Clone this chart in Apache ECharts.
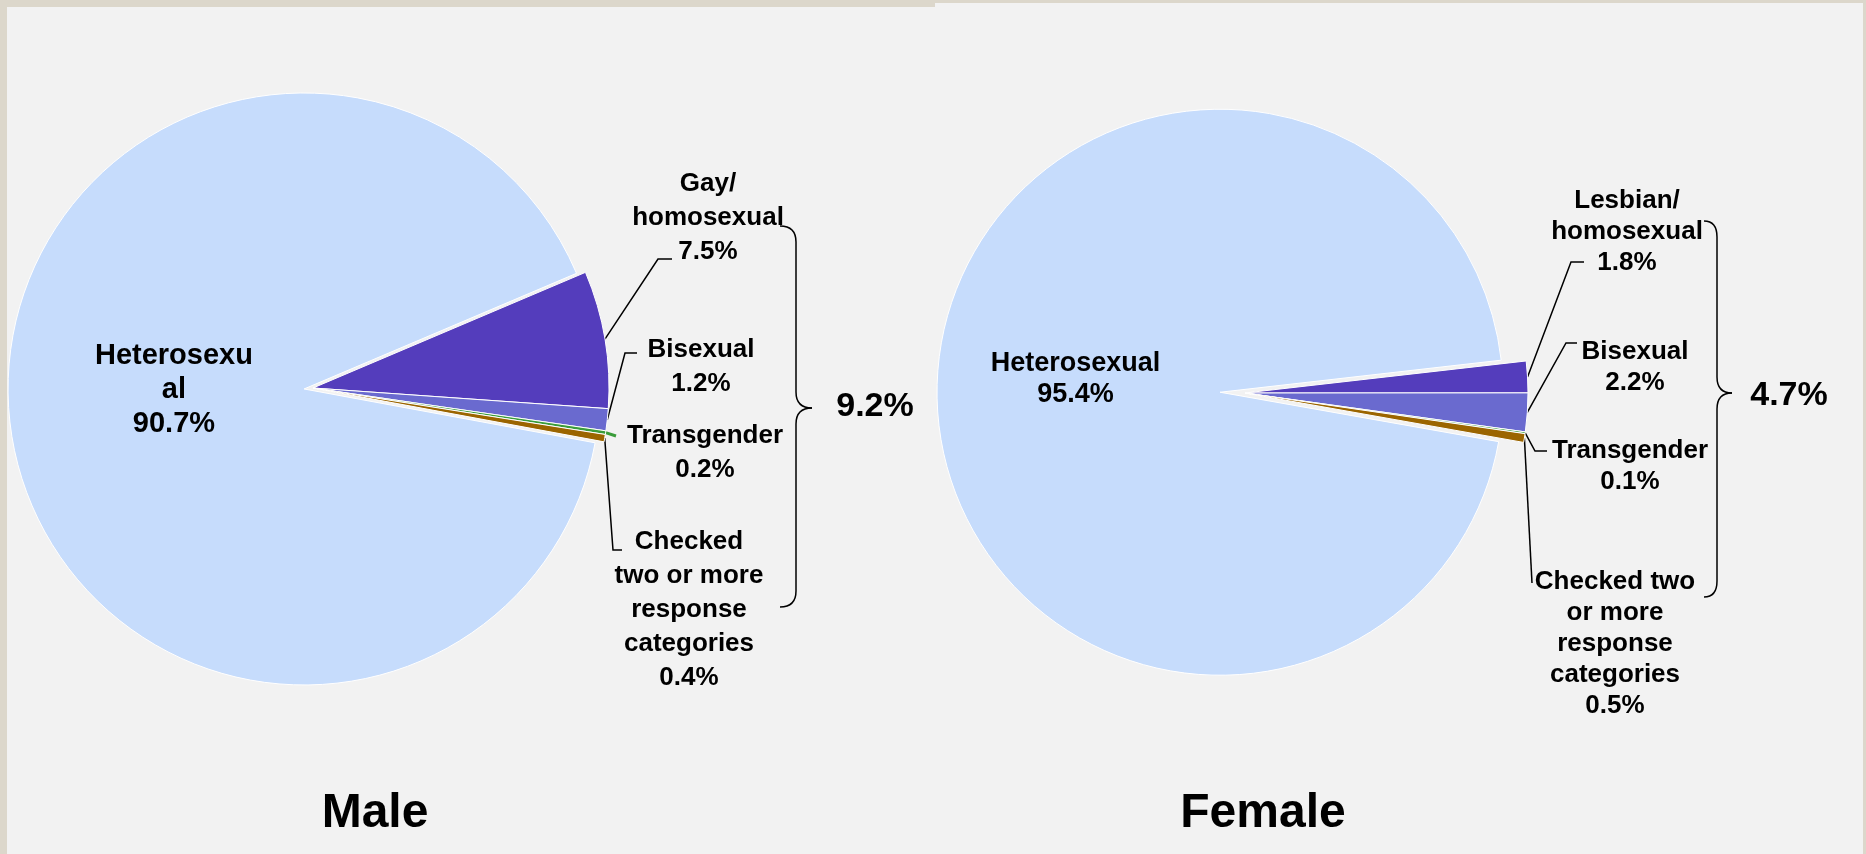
<!DOCTYPE html>
<html>
<head>
<meta charset="utf-8">
<script src="https://cdn.jsdelivr.net/npm/echarts@6/dist/echarts.min.js"></script>
<style>
html, body { margin: 0; padding: 0; background: #f2f2f2; }
#chart { width: 1866px; height: 854px; }
</style>
</head>
<body>
<div id="chart"></div>
<script>
// data
const maleCategories = ['Gay/\nhomosexual', 'Bisexual', 'Transgender', 'Checked\ntwo or more\nresponse\ncategories', 'Heterosexu\nal'];
const maleValues = [7.5, 1.2, 0.2, 0.4, 90.7];
const femaleCategories = ['Lesbian/\nhomosexual', 'Bisexual', 'Transgender', 'Checked two\nor more\nresponse\ncategories', 'Heterosexual'];
const femaleValues = [1.8, 2.2, 0.1, 0.5, 95.4];
const groupTitles = ['Male', 'Female'];
const minorityTotals = ['9.2%', '4.7%'];

const sliceColors = ['#543dbc', '#6a6acf', '#3a9c3a', '#9b6500', '#c6dcfc'];
const font = '"Liberation Sans", Arial, sans-serif';

// where labels sit and where their leader lines bend
const maleLabelAt = [[708, 218], [701, 367], [705, 453], [689, 610]];
const maleLeader = [[[658, 259], [672, 259]], [[625, 353], [637, 353]], [[616, 436], [616, 436]], [[613, 550], [622, 550]]];
const femaleLabelAt = [[1627, 232], [1635, 367], [1630, 466], [1615, 644]];
const femaleLeader = [[[1571, 262], [1584, 262]], [[1566, 343], [1577, 343]], [[1535, 451], [1547, 451]], [[1532, 583], [1532, 583]]];
// the big slice keeps its label inside; padding / a spacer line nudge it off the default spot
const maleInsidePad = [0, 0, 0, 40];
const femaleInsidePad = [0, 0, 0, 0];

const makePie = (names, values, center, radius, startAngle, offset, lineHeight, bigFont, insidePad, spacer, labelAt, leader, greenLeader) => ({
  type: 'pie',
  center: center,
  radius: radius,
  startAngle: startAngle,
  clockwise: true,
  selectedMode: 'single',
  selectedOffset: offset,
  avoidLabelOverlap: false,
  silent: true,
  animation: false,
  itemStyle: { borderColor: '#ffffff', borderWidth: 1 },
  label: {
    show: true,
    position: 'outside',
    color: '#000',
    fontFamily: font,
    fontWeight: 'bold',
    fontSize: 26,
    lineHeight: lineHeight,
    align: 'center',
    formatter: p => p.name + '\n' + p.value.toFixed(1) + '%' + (p.dataIndex === 4 ? '\n{gap| }' : '')
  },
  labelLine: { show: true, length: 10, length2: 10, lineStyle: { color: '#000', width: 1.5 } },
  labelLayout: params => {
    const i = params.dataIndex;
    if (!labelAt[i]) return {};
    const out = { x: labelAt[i][0], y: labelAt[i][1], align: 'center', verticalAlign: 'middle' };
    if (params.labelLinePoints) {
      out.labelLinePoints = [params.labelLinePoints[0], leader[i][0], leader[i][1]];
    }
    return out;
  },
  data: names.map((n, i) => {
    const item = { name: n, value: values[i], itemStyle: { color: sliceColors[i] } };
    if (i === 4) {
      item.selected = true;
      item.label = {
        position: 'inside', fontSize: bigFont, color: '#000', padding: insidePad,
        rich: { gap: { fontSize: 2, lineHeight: spacer } }
      };
      item.labelLine = { show: false };
    }
    if (i === 2 && greenLeader) {
      item.labelLine = { lineStyle: { color: sliceColors[2], width: 3 } };
    }
    return item;
  })
});

const chart = echarts.init(document.getElementById('chart'));

// curly brace made of straight lines and quadratic curves
const brace = (x0, top, bottom, xv, tipX, tipY) => {
  const st = { stroke: '#000', lineWidth: 1.5, fill: null };
  const c = 16;
  return {
    type: 'group',
    silent: true,
    children: [
      { type: 'bezierCurve', shape: { x1: x0, y1: top, cpx1: xv, cpy1: top, x2: xv, y2: top + c }, style: st },
      { type: 'line', shape: { x1: xv, y1: top + c, x2: xv, y2: tipY - c }, style: st },
      { type: 'bezierCurve', shape: { x1: xv, y1: tipY - c, cpx1: xv, cpy1: tipY, x2: tipX, y2: tipY }, style: st },
      { type: 'bezierCurve', shape: { x1: tipX, y1: tipY, cpx1: xv, cpy1: tipY, x2: xv, y2: tipY + c }, style: st },
      { type: 'line', shape: { x1: xv, y1: tipY + c, x2: xv, y2: bottom - c }, style: st },
      { type: 'bezierCurve', shape: { x1: xv, y1: bottom - c, cpx1: xv, cpy1: bottom, x2: x0, y2: bottom }, style: st }
    ]
  };
};

const option = {
  backgroundColor: '#f2f2f2',
  title: groupTitles.map((t, i) => ({
    text: t,
    left: [370, 1258][i],
    top: 785,
    textAlign: 'center',
    textStyle: { fontSize: 48, fontWeight: 'bold', fontFamily: font, color: '#000' }
  })),
  graphic: [
    { type: 'rect', shape: { x: 0, y: 0, width: 7, height: 854 }, style: { fill: '#dcd7cb' }, silent: true },
    { type: 'rect', shape: { x: 0, y: 0, width: 935, height: 7 }, style: { fill: '#dcd7cb' }, silent: true },
    { type: 'rect', shape: { x: 935, y: 0, width: 931, height: 3 }, style: { fill: '#dcd7cb' }, silent: true },
    { type: 'rect', shape: { x: 1863, y: 0, width: 3, height: 854 }, style: { fill: '#dcd7cb' }, silent: true },
    brace(780, 226, 607, 796, 812, 408),
    brace(1704, 221, 597, 1717, 1732, 393),
    { type: 'text', x: 875, y: 407, style: { text: minorityTotals[0], fontSize: 34, fontWeight: 'bold', fontFamily: font, fill: '#000', align: 'center', verticalAlign: 'middle' }, silent: true },
    { type: 'text', x: 1789, y: 396, style: { text: minorityTotals[1], fontSize: 34, fontWeight: 'bold', fontFamily: font, fill: '#000', align: 'center', verticalAlign: 'middle' }, silent: true }
  ],
  series: [
    makePie(maleCategories, maleValues, [313, 388], 296, 23, 9, 34, 29, maleInsidePad, 30, maleLabelAt, maleLeader, true),
    makePie(femaleCategories, femaleValues, [1245, 393], 283, 6.5, 25, 31, 27, femaleInsidePad, 17, femaleLabelAt, femaleLeader, false)
  ]
};

chart.setOption(option);
</script>
</body>
</html>
